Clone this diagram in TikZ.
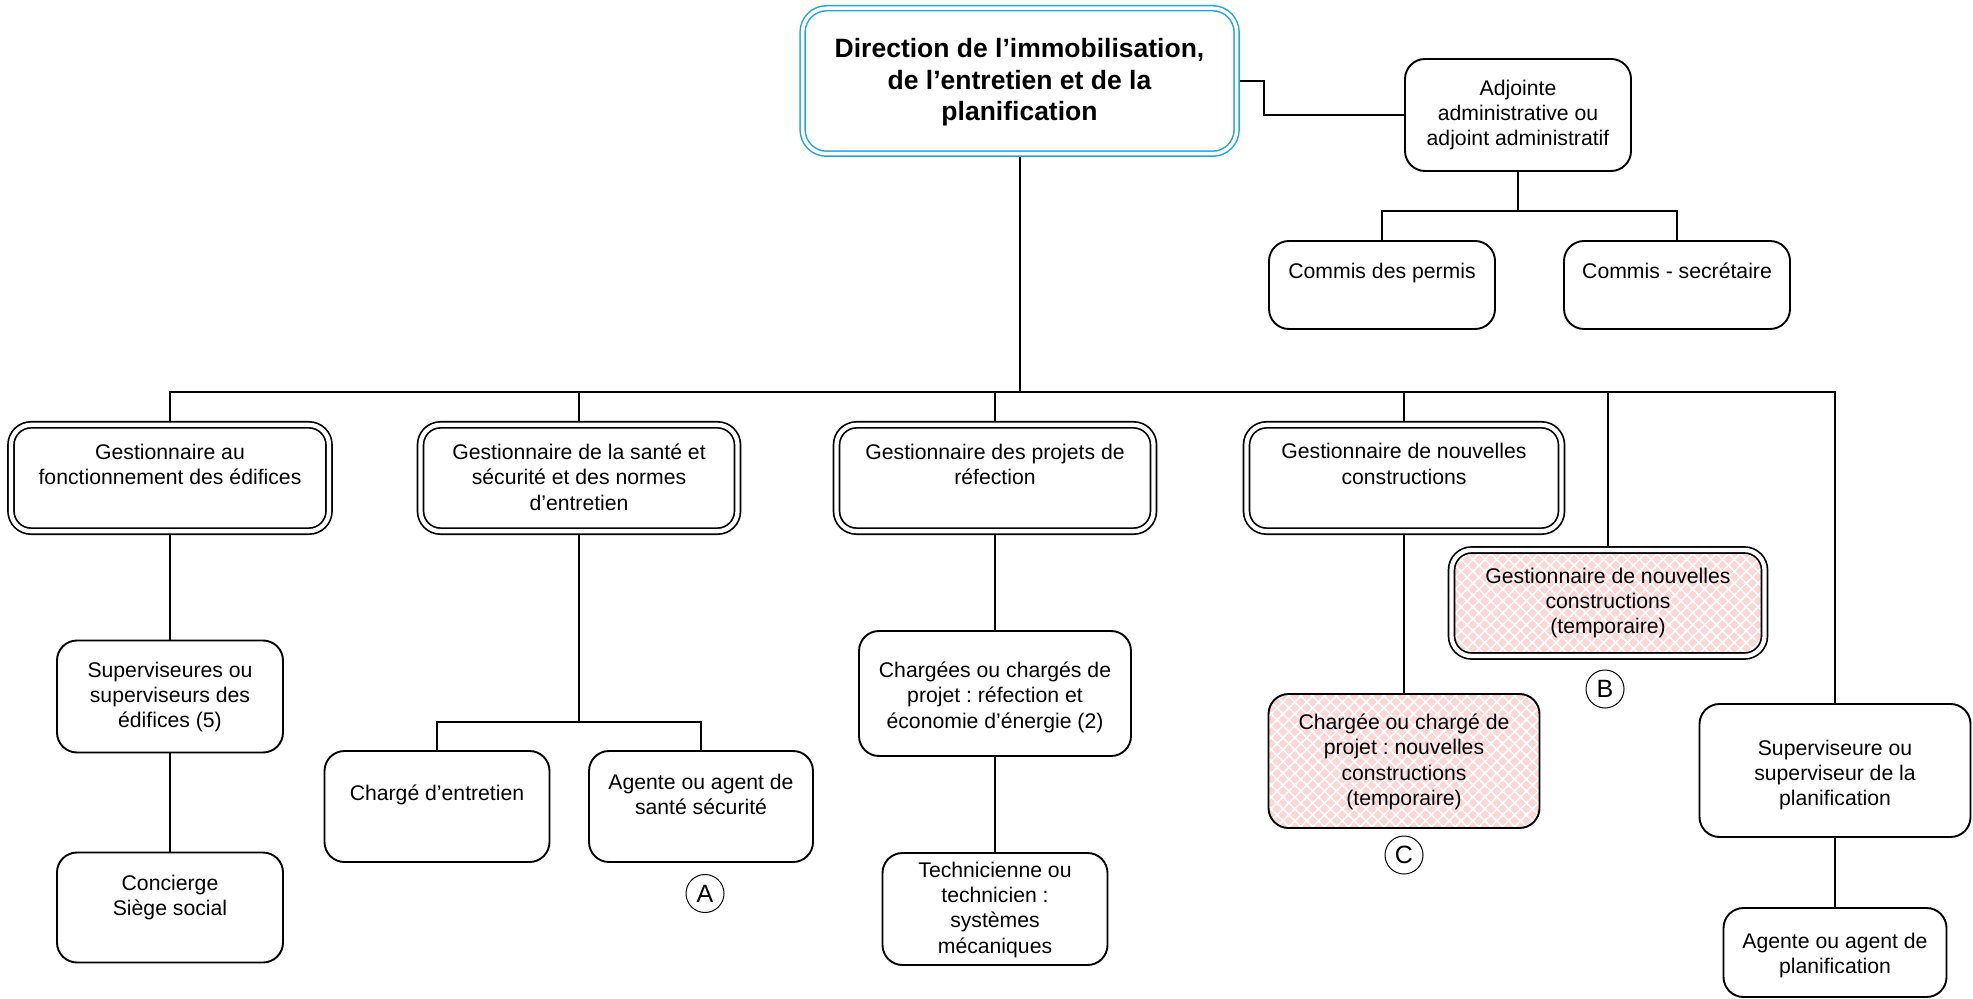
\documentclass[tikz,border=0pt]{standalone}
\usepackage{fontspec}
\setmainfont{Liberation Sans}
\usetikzlibrary{backgrounds,patterns.meta}
\definecolor{cyanline}{RGB}{30,168,222}
\definecolor{pinkfill}{RGB}{254,214,214}
\frenchspacing
\begin{document}
\begin{tikzpicture}[x=0.5pt,y=-0.5pt,
  box/.style={draw, line width=0.95pt, rounded corners=10pt, fill=white, inner sep=0pt, outer sep=0pt},
  dbox/.style={draw, line width=0.85pt, double=white, double distance=2.15pt, rounded corners=10pt, fill=white, inner sep=0pt, outer sep=0pt},
  tbox/.style={draw=cyanline, line width=0.75pt, double=white, double distance=1.75pt, rounded corners=12pt, fill=white, inner sep=0pt, outer sep=0pt},
  pinky/.style={fill=none, preaction={fill=pinkfill}, pattern={Hatch[angle=45,distance=4.2pt,line width=0.8pt]}, pattern color=white},
  txt/.style={anchor=north, inner sep=0pt, align=center, font=\fontsize{10.6pt}{12.6pt}\selectfont},
  ttl/.style={anchor=north, inner sep=0pt, align=center, font=\bfseries\fontsize{13.25pt}{15.75pt}\selectfont},
  conn/.style={line width=0.95pt},
  circ/.style={draw, circle, line width=0.5pt, minimum size=19pt, inner sep=0pt, font=\fontsize{12.5pt}{15pt}\selectfont},
]
\useasboundingbox (0,0) rectangle (1973,999);

% boxes
\node[tbox, minimum width=217pt, minimum height=72.75pt] (title) at (1019.6,81) {};
\node[box, minimum width=113pt, minimum height=56pt] (adj) at (1518,115) {};
\node[box, minimum width=113pt, minimum height=44pt] (cperm) at (1382,285) {};
\node[box, minimum width=113pt, minimum height=44pt] (csec) at (1677,285) {};

\node[dbox, minimum width=159pt, minimum height=53.15pt] (L1) at (170,478) {};
\node[dbox, minimum width=158.5pt, minimum height=53.15pt] (L2) at (579,478) {};
\node[dbox, minimum width=158.5pt, minimum height=53.15pt] (L3) at (995,478) {};
\node[dbox, minimum width=157.5pt, minimum height=53.15pt] (L4) at (1404,478) {};
\node[dbox, pinky, minimum width=156.5pt, minimum height=53pt] (B) at (1608,603) {};

\node[box, minimum width=113pt, minimum height=56pt] (sup1) at (170,696.5) {};
\node[box, minimum width=113pt, minimum height=55pt] (conc) at (170,907.5) {};
\node[box, minimum width=112.5pt, minimum height=55.5pt] (charge) at (437,806.5) {};
\node[box, minimum width=112pt, minimum height=55.5pt] (agsan) at (701,806.5) {};
\node[box, minimum width=136pt, minimum height=62.5pt] (chargees) at (995,693.5) {};
\node[box, minimum width=112.5pt, minimum height=56pt] (tech) at (995,909) {};
\node[box, pinky, minimum width=135.5pt, minimum height=67pt] (pinkC) at (1404,761) {};
\node[box, minimum width=135.5pt, minimum height=66.5pt] (supplan) at (1835,770.5) {};
\node[box, minimum width=111.5pt, minimum height=44.5pt] (agplan) at (1835,952.5) {};

% texts
\node[ttl] (titlet) at (1019.5,38) {Direction de l’immobilisation,\\de l’entretien et de la\\planification};
\node[txt] (adjt) at (1518,79.7) {Adjointe\\administrative ou\\adjoint administratif};
\node[txt] (cpermt) at (1382,262.7) {Commis des permis};
\node[txt] (csect) at (1677,262.7) {Commis - secrétaire};
\node[txt] (L1t) at (170,443.7) {Gestionnaire au\\fonctionnement des édifices};
\node[txt] (L2t) at (579,443.7) {Gestionnaire de la santé et\\sécurité et des normes\\d’entretien};
\node[txt] (L3t) at (995,443.7) {Gestionnaire des projets de\\réfection};
\node[txt] (L4t) at (1404,443.2) {Gestionnaire de nouvelles\\constructions};
\node[txt] (Bt) at (1608,567.7) {Gestionnaire de nouvelles\\constructions\\(temporaire)};
\node[txt] (sup1t) at (170,661.7) {Superviseures ou\\superviseurs des\\édifices (5)};
\node[txt] (conct) at (170,874.7) {Concierge\\Siège social};
\node[txt] (charget) at (437,784.7) {Chargé d’entretien};
\node[txt] (agsant) at (701,773.7) {Agente ou agent de\\santé sécurité};
\node[txt] (chargeest) at (995,661.7) {Chargées ou chargés de\\projet : réfection et\\économie d’énergie (2)};
\node[txt] (techt) at (995,861.7) {Technicienne ou\\technicien :\\systèmes\\mécaniques};
\node[txt] (pinkCt) at (1404,713.7) {Chargée ou chargé de\\projet : nouvelles\\constructions\\(temporaire)};
\node[txt] (supplant) at (1835,739.7) {Superviseure ou\\superviseur de la\\planification};
\node[txt] (agplant) at (1835,932.7) {Agente ou agent de\\planification};

% circled letters
\node[circ] (cA) at (705,893.5) {A};
\node[circ] (cB) at (1605,689) {B};
\node[circ] (cC) at (1404,855) {C};

% connectors
\begin{pgfonlayer}{background}
\draw[conn] (title.east) -- ++(27,0) |- (adj.west);
\coordinate (adjbus) at (1518,211);
\draw[conn] (adj.south) -- (adjbus);
\draw[conn] (cperm.north) |- (adjbus) -| (csec.north);
\coordinate (bus) at (1019.6,392);
\draw[conn] (title.south) -- (bus);
\draw[conn] (L1.north) |- (bus) -| (supplan.north);
\foreach \n in {L2,L3,L4,B} \draw[conn] (\n.north) -- (\n.north |- bus);
\draw[conn] (L1.south) -- (sup1.north);
\draw[conn] (sup1.south) -- (conc.north);
\coordinate (c2bus) at (579,722);
\draw[conn] (L2.south) -- (c2bus);
\draw[conn] (charge.north) |- (c2bus) -| (agsan.north);
\draw[conn] (L3.south) -- (chargees.north);
\draw[conn] (chargees.south) -- (tech.north);
\draw[conn] (L4.south) -- (pinkC.north);
\draw[conn] (supplan.south) -- (agplan.north);
\end{pgfonlayer}
\end{tikzpicture}
\end{document}
